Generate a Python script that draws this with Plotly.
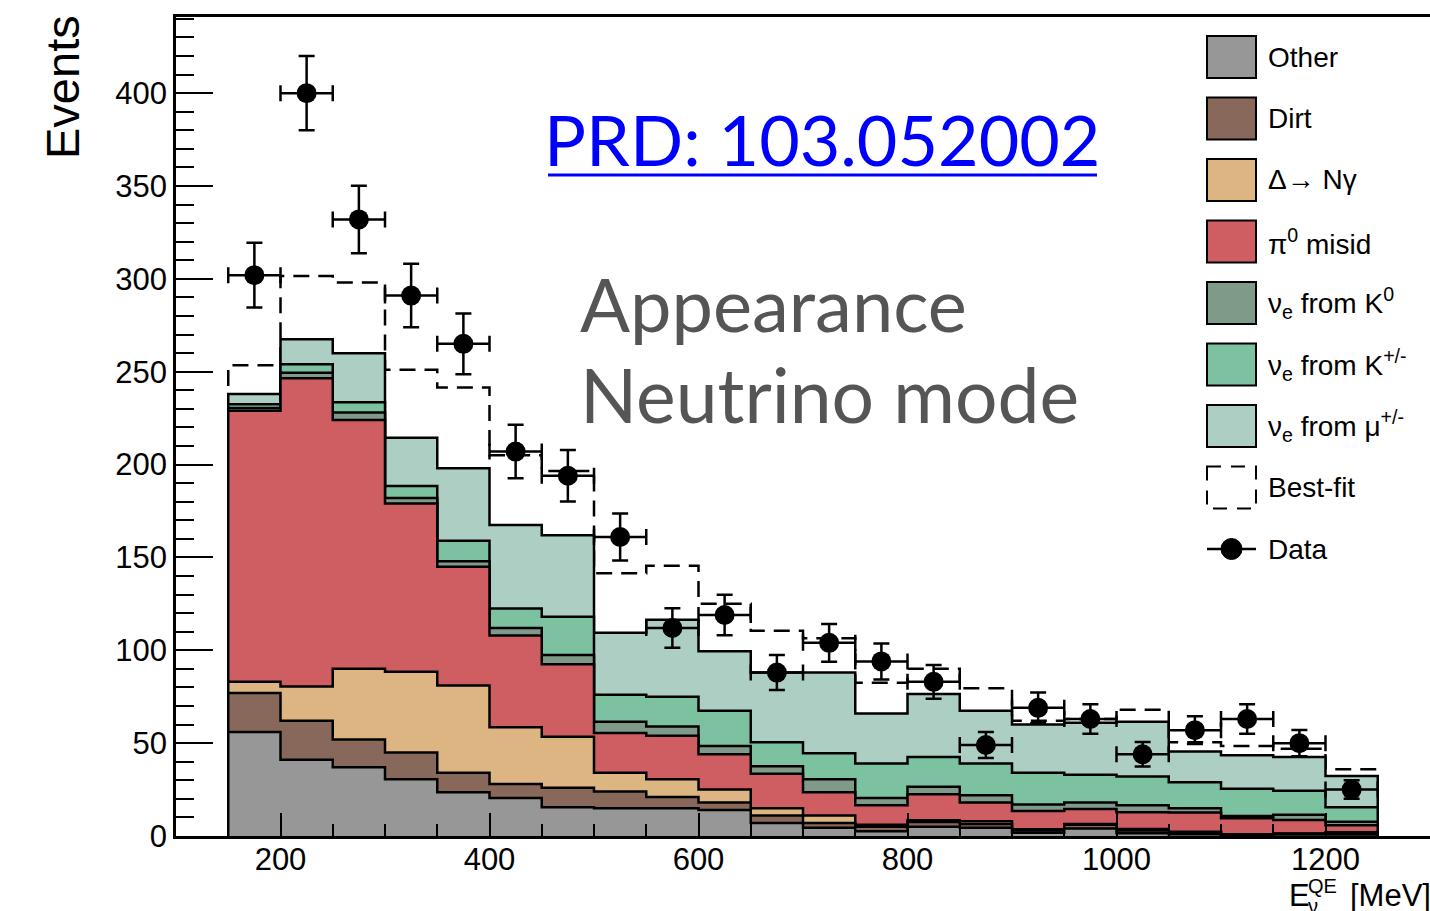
import numpy as np
import plotly.graph_objects as go

# canvas / plot-area geometry in pixels (ROOT-like frame)
W, H = 1430, 911
L, R, T, B = 176, 0, 17, 75

# --- data ---
bin_edges = [150, 200, 250, 300, 350, 400, 450, 500, 550, 600, 650, 700,
             750, 800, 850, 900, 950, 1000, 1050, 1100, 1150, 1200, 1250]

other = [56, 41, 37, 30.5, 23.5, 20.5, 15.5, 15, 15, 14, 7, 4.5,
         2.5, 5, 4.5, 1.8, 4, 1.5, 1, 0.6, 0.8, 0.8]
dirt = [21, 21, 15, 14.5, 10.5, 7.5, 10.5, 9, 6, 4, 4, 2.5,
        2.5, 2.5, 2, 1.2, 2, 1.5, 1, 0.2, 0.4, 0.7]
delta_ngamma = [6, 18.5, 38, 43.5, 47, 30.5, 27.5, 10, 9.5, 7, 4, 4,
                1, 1, 1.5, 0.6, 0.5, 0.8, 0.3, 0.2, 0.2, 0.5]
pi0_misid = [146, 166, 134, 90.5, 64, 49.5, 39, 21.5, 23.5, 19, 18.5, 12.5,
             10.5, 14, 10, 9.9, 8, 9, 10.3, 8.5, 7.2, 3.8]
nue_k0 = [1.5, 3, 4, 3, 3, 4, 5, 6, 5, 4.5, 4, 7,
          4, 4, 4, 3.5, 3.5, 3.7, 2.4, 1.3, 2.9, 1.9]
nue_kpm = [2, 4.5, 5.5, 6.5, 11, 10.5, 20.5, 14.5, 16, 19, 13, 14,
           18.5, 16, 17, 17, 15, 15.5, 14, 14.7, 12.9, 7.8]
nue_mu = [5.5, 13.5, 26.5, 26, 39, 45, 44, 33.5, 41.5, 32, 37.5, 43.5,
          27, 34, 28.5, 26, 28, 29.5, 16.5, 18, 18.1, 16.8]

best_fit = [253.5, 301.5, 298, 251, 241.5, 205, 196.5, 141.5, 145.5, 125, 110.5, 106.5,
            82.5, 90, 79.5, 62, 63, 68, 50.5, 48.5, 47, 36]

data_counts = [302, 400, 332, 291, 265, 207, 194, 161, 112, 119, 88, 104,
               94, 83, 49, 69, 63, 44, 57, 63, 50, 25]
data_err = [17.4, 20, 18.2, 17.1, 16.3, 14.4, 13.9, 12.7, 10.6, 10.9, 9.4, 10.2,
            9.7, 9.1, 7, 8.3, 7.9, 6.6, 7.5, 7.9, 7.1, 5]

legend_labels = ["Other", "Dirt", "Δ→ Nγ", "π<sup>0</sup> misid",
                 "ν<sub>e</sub> from K<sup>0</sup>", "ν<sub>e</sub> from K<sup>+/-</sup>",
                 "ν<sub>e</sub> from μ<sup>+/-</sup>", "Best-fit", "Data"]

layers = [other, dirt, delta_ngamma, pi0_misid, nue_k0, nue_kpm, nue_mu]
colors = ["#979797", "#88685a", "#dcb583", "#ce5e61", "#7f9a88", "#7cc1a0", "#adcfc3"]

FONT = "Liberation Sans, Arial, sans-serif"
TITLE_FONT = "Lato, sans-serif"


def px(x):
    return (x - L) / (W - L - R)


def py(y):
    return (H - B - y) / (H - B - T)


def step(vals):
    xs = [bin_edges[0]] + bin_edges[:-1] + [bin_edges[-1], bin_edges[-1]]
    ys = [0] + list(vals) + [vals[-1], 0]
    return xs, ys


def text_at(x, y, text, size, color="black", family=FONT, xanchor="left", **kw):
    return dict(x=px(x), y=py(y), xref="paper", yref="paper", text=text,
                showarrow=False, xanchor=xanchor, yanchor="middle",
                font=dict(family=family, size=size, color=color), **kw)


fig = go.Figure()

# --- best-fit (dashed), drawn first so the stack covers its lower parts ---
bx, by = step(best_fit)
fig.add_trace(go.Scatter(x=bx, y=by, mode="lines", line_shape="hv",
                         line=dict(color="black", width=2.5, dash="16px,9px"),
                         hoverinfo="skip", showlegend=False))

# --- stacked background, top layer first ---
cum = np.cumsum(np.array(layers, dtype=float), axis=0)
for i in reversed(range(len(layers))):
    sx, sy = step(cum[i])
    fig.add_trace(go.Scatter(x=sx, y=sy, mode="lines", line_shape="hv",
                             fill="tozeroy", fillcolor=colors[i],
                             line=dict(color="black", width=2.5),
                             hoverinfo="skip", showlegend=False))

# --- data points ---
centers = [(a + b) / 2 for a, b in zip(bin_edges[:-1], bin_edges[1:])]
fig.add_trace(go.Scatter(
    x=centers, y=data_counts, mode="markers",
    marker=dict(color="black", size=20),
    error_y=dict(type="data", array=data_err, color="black", thickness=2.5, width=8),
    error_x=dict(type="constant", value=25, color="black", thickness=2.5, width=8),
    showlegend=False))

# --- hand-drawn legend (ROOT style boxes) ---
shapes = []
annotations = []
row0, dy = 57, 61.5
for i, lab in enumerate(legend_labels):
    yc = row0 + i * dy
    if i < len(layers):
        shapes.append(dict(type="rect", xref="paper", yref="paper",
                           x0=px(1207), x1=px(1256), y0=py(yc - 21), y1=py(yc + 21),
                           fillcolor=colors[i], line=dict(color="black", width=2)))
    elif lab == "Best-fit":
        shapes.append(dict(type="rect", xref="paper", yref="paper",
                           x0=px(1207), x1=px(1256), y0=py(yc - 21), y1=py(yc + 21),
                           fillcolor="rgba(0,0,0,0)",
                           line=dict(color="black", width=2, dash="14px,10px")))
    else:
        shapes.append(dict(type="line", xref="paper", yref="paper",
                           x0=px(1207), x1=px(1256), y0=py(yc), y1=py(yc),
                           line=dict(color="black", width=2.5)))
        shapes.append(dict(type="circle", xref="paper", yref="paper",
                           x0=px(1221), x1=px(1242), y0=py(yc - 10.5), y1=py(yc + 10.5),
                           fillcolor="black", line=dict(color="black", width=1)))
    annotations.append(text_at(1266, yc, lab, 28))

# --- reference link and labels ---
annotations.append(text_at(822, 139, "PRD: 103.052002", 70, "#0000ff",
                           TITLE_FONT, xanchor="center"))
shapes.append(dict(type="line", xref="paper", yref="paper",
                   x0=px(548), x1=px(1097), y0=py(175), y1=py(175),
                   line=dict(color="#0000ff", width=3)))
annotations.append(text_at(578, 303, "Appearance", 74, "#555555", TITLE_FONT))
annotations.append(text_at(578, 394, "Neutrino mode", 75, "#555555", TITLE_FONT))

# --- axis titles ---
annotations.append(text_at(62, 87, "Events", 47, xanchor="center", textangle=-90))
annotations.append(text_at(1287, 895, "E", 31))
annotations.append(text_at(1306, 886, "QE", 20))
annotations.append(text_at(1306, 906, "ν", 20))
annotations.append(text_at(1433, 895, "[MeV]", 31, xanchor="right"))

fig.update_layout(
    width=W, height=H,
    margin=dict(l=L, r=R, t=T, b=B),
    paper_bgcolor="white", plot_bgcolor="white",
    showlegend=False,
    shapes=shapes, annotations=annotations,
    xaxis=dict(range=[100, 1300], showgrid=False, zeroline=False,
               showline=True, linecolor="black", linewidth=2.5, mirror=True,
               ticks="inside", tick0=0, dtick=200, ticklen=23, tickwidth=2,
               tickcolor="black", ticklabelstandoff=-6,
               minor=dict(dtick=50, ticks="inside", ticklen=12, tickwidth=2,
                          tickcolor="black", showgrid=False),
               tickfont=dict(family=FONT, size=31, color="black")),
    yaxis=dict(range=[0, 441], showgrid=False, zeroline=False,
               showline=True, linecolor="black", linewidth=2.5,
               ticks="inside", tick0=0, dtick=50, ticklen=37, tickwidth=2,
               tickcolor="black", ticklabelstandoff=0,
               minor=dict(dtick=10, ticks="inside", ticklen=18, tickwidth=2,
                          tickcolor="black", showgrid=False),
               tickfont=dict(family=FONT, size=31, color="black")),
)

fig.write_html("out.html", config={"displayModeBar": False},
               post_script="document.body.style.margin='0';")
